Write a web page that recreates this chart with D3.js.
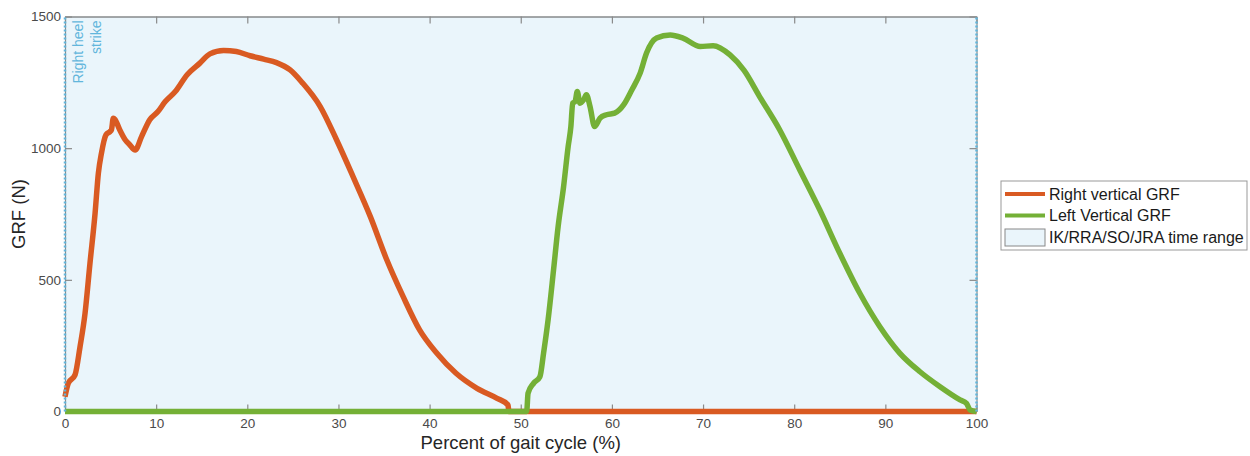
<!DOCTYPE html>
<html>
<head>
<meta charset="utf-8">
<script src="https://cdn.jsdelivr.net/npm/d3@7"></script>
<style>
    body { margin: 0; background: #fff; }
    #chart { width: 1250px; height: 456px; }
    text { font-family: "Liberation Sans", Arial, sans-serif; }
</style>
</head>
<body>
<svg id="chart" width="1250" height="456"></svg>
<script>
    // gait cycle % and vertical GRF (N)
    const rightPct = [0, 0.36, 1.1, 1.65, 2.2, 2.74, 3.3, 3.66, 4.0, 4.5, 4.94, 5.1, 5.3, 5.5, 6.0, 6.6, 7.1, 7.7, 8.4, 9.3, 10.2, 11.0, 12.1, 13.4, 14.8, 15.9, 17.4, 18.8, 20.3, 21.8, 23.2, 24.7, 26.0, 28.0, 29.8, 31.6, 33.5, 35.3, 37.1, 38.9, 40.8, 42.9, 45.2, 47.4, 48.6, 48.7, 100];
    const rightGRF = [56, 107, 139, 246, 373, 563, 753, 905, 981, 1051, 1063, 1070, 1114, 1108, 1070, 1032, 1013, 993, 1044, 1108, 1139, 1177, 1215, 1279, 1323, 1358, 1371, 1367, 1351, 1338, 1325, 1297, 1250, 1158, 1031, 892, 740, 576, 436, 310, 221, 145, 88, 50, 25, 0, 0];

    const leftPct = [0, 50.65, 50.8, 51.4, 52.1, 52.5, 53.0, 53.6, 54.1, 54.7, 55.2, 55.5, 55.7, 55.96, 56.2, 56.5, 56.9, 57.2, 57.6, 58.1, 58.7, 59.4, 60.3, 61.3, 62.2, 63.1, 63.8, 64.9, 66.4, 67.8, 69.7, 71.1, 72.96, 74.5, 76.2, 78.4, 80.6, 82.8, 85.0, 87.2, 89.4, 91.6, 93.8, 96.0, 98.2, 98.9, 99.3, 100];
    const leftGRF = [0, 0, 69, 107, 132, 221, 348, 538, 702, 854, 1006, 1082, 1171, 1177, 1215, 1171, 1184, 1203, 1158, 1082, 1114, 1127, 1133, 1165, 1222, 1285, 1361, 1418, 1430, 1418, 1386, 1389, 1354, 1295, 1196, 1070, 918, 766, 601, 449, 322, 221, 151, 94, 44, 31, 6, 0];

    const xTicks = [0, 10, 20, 30, 40, 50, 60, 70, 80, 90, 100];
    const yTicks = [0, 500, 1000, 1500];
    const legendLabels = ["Right vertical GRF", "Left Vertical GRF", "IK/RRA/SO/JRA time range"];

    const svg = d3.select("#chart");
    const plotL = 65, plotR = 976.5, plotT = 16.5, plotB = 411.5;

    const x = d3.scaleLinear().domain([0, 100]).range([plotL, plotR]);
    const y = d3.scaleLinear().domain([0, 1500]).range([plotB, plotT]);

    // shaded time range
    svg.append("rect")
        .attr("x", x(0)).attr("y", y(1500))
        .attr("width", x(100) - x(0)).attr("height", y(0) - y(1500))
        .attr("fill", "#eaf5fb");

    let xAxis = svg.append("g")
        .attr("transform", `translate(0,${plotB})`)
        .call(d3.axisBottom(x).tickValues(xTicks).tickSizeInner(-7).tickSizeOuter(0).tickPadding(7).tickFormat(d3.format("d")));
    let xTop = svg.append("g")
        .attr("transform", `translate(0,${plotT})`)
        .call(d3.axisTop(x).tickValues(xTicks).tickSizeInner(-7).tickSizeOuter(0).tickFormat(""));
    let yAxis = svg.append("g")
        .attr("transform", `translate(${plotL},0)`)
        .call(d3.axisLeft(y).tickValues(yTicks).tickSizeInner(-7).tickSizeOuter(0).tickPadding(4).tickFormat(d3.format("d")));
    let yRight = svg.append("g")
        .attr("transform", `translate(${plotR},0)`)
        .call(d3.axisRight(y).tickValues(yTicks).tickSizeInner(-7).tickSizeOuter(0).tickFormat(""));

    [xAxis, xTop, yAxis, yRight].forEach(g => {
        g.select(".domain").attr("stroke", "#8a8a8a").attr("stroke-width", 1.2);
        g.selectAll(".tick line").attr("stroke", "#8a8a8a").attr("stroke-width", 1.2);
        g.selectAll(".tick text").attr("fill", "#4a4a4a").style("font-size", "13.5px");
    });
    xTop.select(".domain").attr("stroke", "#555");

    const line = d3.line()
        .curve(d3.curveMonotoneX)
        .x(d => x(d[0]))
        .y(d => y(d[1]));

    svg.append("path")
        .datum(rightPct.map((p, i) => [p, rightGRF[i]]))
        .attr("d", line)
        .attr("fill", "none")
        .attr("stroke", "#d95a22")
        .attr("stroke-width", 5.5)
        .attr("stroke-linejoin", "round");

    svg.append("path")
        .datum(leftPct.map((p, i) => [p, leftGRF[i]]))
        .attr("d", line)
        .attr("fill", "none")
        .attr("stroke", "#74b036")
        .attr("stroke-width", 5.5)
        .attr("stroke-linejoin", "round");

    // dotted boundary lines of the time range
    [0, 100].forEach(v => {
        svg.append("line")
            .attr("x1", x(v)).attr("x2", x(v))
            .attr("y1", y(0)).attr("y2", y(1500))
            .attr("stroke", "#62b6dc")
            .attr("stroke-width", 2.5)
            .attr("stroke-dasharray", "2,2");
    });

    // heel strike annotation
    let ann = svg.append("text")
        .attr("transform", `translate(${x(0) + 18},${plotT + 4}) rotate(-90)`)
        .attr("text-anchor", "end")
        .attr("fill", "#62b6dc")
        .style("font-size", "14px");
    ann.append("tspan").attr("x", 0).attr("dy", 0).text("Right heel");
    ann.append("tspan").attr("x", 0).attr("dy", 18).text("strike");

    // axis labels
    svg.append("text")
        .attr("x", (plotL + plotR) / 2).attr("y", 449)
        .attr("text-anchor", "middle")
        .attr("fill", "#262626")
        .style("font-size", "18.5px")
        .text("Percent of gait cycle (%)");
    svg.append("text")
        .attr("transform", `translate(25,${(plotT + plotB) / 2}) rotate(-90)`)
        .attr("text-anchor", "middle")
        .attr("fill", "#262626")
        .style("font-size", "18.5px")
        .text("GRF (N)");

    // legend
    let lg = svg.append("g").attr("transform", "translate(1001,181)");
    lg.append("rect")
        .attr("width", 246).attr("height", 69)
        .attr("fill", "#fff").attr("stroke", "#999").attr("stroke-width", 1);
    const legendColors = ["#d95a22", "#74b036"];
    legendLabels.forEach((lab, i) => {
        let cy = 13 + i * 21.5;
        if (i < 2) {
            lg.append("line")
                .attr("x1", 4).attr("x2", 44).attr("y1", cy).attr("y2", cy)
                .attr("stroke", legendColors[i]).attr("stroke-width", 4);
        } else {
            lg.append("rect")
                .attr("x", 4).attr("y", cy - 8).attr("width", 40).attr("height", 17)
                .attr("fill", "#eaf5fb").attr("stroke", "#888").attr("stroke-width", 1);
        }
        lg.append("text")
            .attr("x", 48).attr("y", cy + 5.5)
            .attr("fill", "#1a1a1a")
            .style("font-size", "16px")
            .text(lab);
    });
</script>
</body>
</html>
